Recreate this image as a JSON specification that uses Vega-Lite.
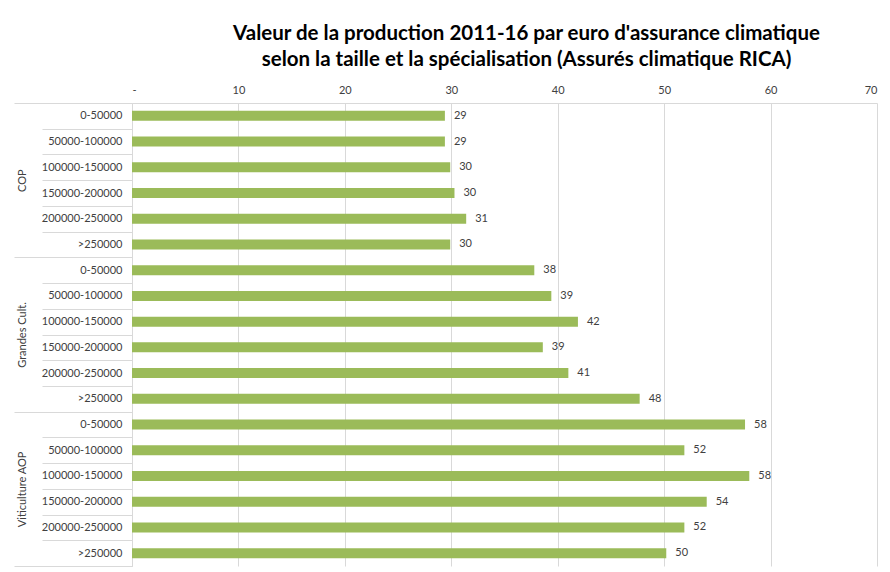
{
  "$schema": "https://vega.github.io/schema/vega-lite/v6.json",
  "width": 745,
  "height": 463,
  "autosize": "none",
  "padding": {"left": 132, "top": 103, "right": 13, "bottom": 6},
  "background": "white",
  "config": {
    "view": {"stroke": null},
    "font": "Lato"
  },
  "title": {
    "text": ["Valeur de la production 2011-16 par euro d'assurance climatique", "selon la taille et la spécialisation (Assurés climatique RICA)"],
    "font": "Lato",
    "fontSize": 20.5,
    "fontWeight": "bold",
    "color": "#000000",
    "lineHeight": 26,
    "anchor": "middle",
    "dx": 22,
    "offset": 14
  },
  "data": {
    "values": [
      {"groupe": "COP", "taille": "0-50000", "cle": "COP|0-50000", "valeur": 29.4},
      {"groupe": "COP", "taille": "50000-100000", "cle": "COP|50000-100000", "valeur": 29.4},
      {"groupe": "COP", "taille": "100000-150000", "cle": "COP|100000-150000", "valeur": 29.9},
      {"groupe": "COP", "taille": "150000-200000", "cle": "COP|150000-200000", "valeur": 30.3},
      {"groupe": "COP", "taille": "200000-250000", "cle": "COP|200000-250000", "valeur": 31.4},
      {"groupe": "COP", "taille": ">250000", "cle": "COP|>250000", "valeur": 29.9},
      {"groupe": "Grandes Cult.", "taille": "0-50000", "cle": "GC|0-50000", "valeur": 37.8},
      {"groupe": "Grandes Cult.", "taille": "50000-100000", "cle": "GC|50000-100000", "valeur": 39.4},
      {"groupe": "Grandes Cult.", "taille": "100000-150000", "cle": "GC|100000-150000", "valeur": 41.9},
      {"groupe": "Grandes Cult.", "taille": "150000-200000", "cle": "GC|150000-200000", "valeur": 38.6},
      {"groupe": "Grandes Cult.", "taille": "200000-250000", "cle": "GC|200000-250000", "valeur": 41.0},
      {"groupe": "Grandes Cult.", "taille": ">250000", "cle": "GC|>250000", "valeur": 47.7},
      {"groupe": "Viticulture  AOP", "taille": "0-50000", "cle": "VA|0-50000", "valeur": 57.6},
      {"groupe": "Viticulture  AOP", "taille": "50000-100000", "cle": "VA|50000-100000", "valeur": 51.9},
      {"groupe": "Viticulture  AOP", "taille": "100000-150000", "cle": "VA|100000-150000", "valeur": 58.0},
      {"groupe": "Viticulture  AOP", "taille": "150000-200000", "cle": "VA|150000-200000", "valeur": 54.0},
      {"groupe": "Viticulture  AOP", "taille": "200000-250000", "cle": "VA|200000-250000", "valeur": 51.9},
      {"groupe": "Viticulture  AOP", "taille": ">250000", "cle": "VA|>250000", "valeur": 50.2}
    ]
  },
  "layer": [
    {
      "mark": {"type": "tick", "opacity": 0},
      "encoding": {
        "y": {
          "field": "groupe",
          "type": "nominal",
          "sort": null,
          "scale": {"paddingInner": 0, "paddingOuter": 0},
          "axis": {
            "orient": "left",
            "title": null,
            "tickBand": "extent",
            "tickSize": 118,
            "tickColor": "#D9D9D9",
            "tickWidth": 1,
            "domain": false,
            "labelAngle": 270,
            "labelAlign": "center",
            "labelBaseline": "middle",
            "labelPadding": -8,
            "labelFont": "Lato",
            "labelFontSize": 11,
            "labelColor": "#404040"
          }
        }
      }
    },
    {
      "mark": {"type": "bar", "color": "#9BBB59", "size": 10},
      "encoding": {
        "y": {
          "field": "cle",
          "type": "nominal",
          "sort": null,
          "scale": {"paddingInner": 0, "paddingOuter": 0},
          "axis": {
            "orient": "left",
            "title": null,
            "tickBand": "extent",
            "tickSize": 90,
            "tickColor": "#D9D9D9",
            "tickWidth": 1,
            "domain": true,
            "domainColor": "#D9D9D9",
            "labelPadding": -80,
            "labelAlign": "right",
            "labelFont": "Lato",
            "labelFontSize": 11,
            "labelColor": "#404040",
            "labelExpr": "split(datum.label, '|')[1]"
          }
        },
        "x": {
          "field": "valeur",
          "type": "quantitative",
          "scale": {"domain": [0, 70], "nice": false},
          "axis": {
            "orient": "top",
            "title": null,
            "values": [0, 10, 20, 30, 40, 50, 60, 70],
            "labelExpr": "datum.value === 0 ? '-' : datum.label",
            "grid": true,
            "gridColor": "#D9D9D9",
            "ticks": false,
            "domain": true,
            "domainColor": "#D9D9D9",
            "labelPadding": 8,
            "labelFont": "Lato",
            "labelFontSize": 11,
            "labelColor": "#404040"
          }
        }
      }
    },
    {
      "mark": {"type": "text", "align": "left", "baseline": "middle", "dx": 9, "font": "Lato", "fontSize": 11, "color": "#404040"},
      "encoding": {
        "y": {"field": "cle", "type": "nominal", "sort": null, "scale": {"paddingInner": 0, "paddingOuter": 0}, "axis": null},
        "x": {"field": "valeur", "type": "quantitative"},
        "text": {"field": "valeur", "type": "quantitative", "format": ".0f"}
      }
    }
  ],
  "resolve": {"scale": {"y": "independent"}, "axis": {"y": "independent"}}
}
